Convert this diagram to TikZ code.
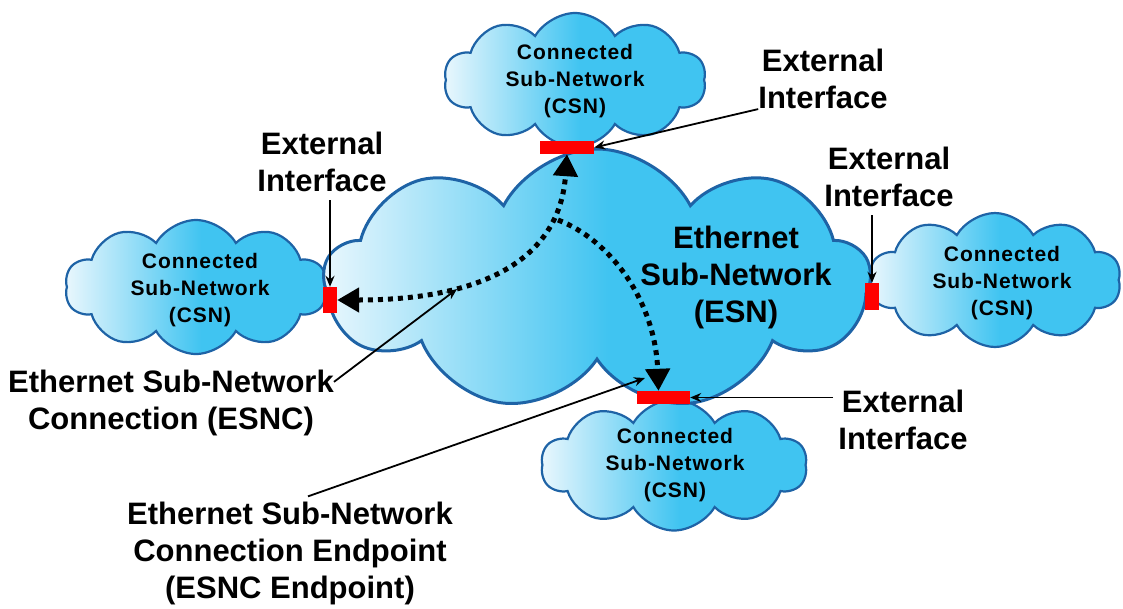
\documentclass[tikz,border=0pt]{standalone}
\usepackage{fontspec}
\setmainfont{Liberation Sans}
\usetikzlibrary{shapes.symbols,arrows.meta,calc}

\definecolor{cloudcyan}{RGB}{64,196,241}
\definecolor{cloudlight}{RGB}{234,247,253}
\definecolor{cloudline}{RGB}{30,99,166}
\definecolor{ifred}{RGB}{255,0,0}
\pgfdeclarehorizontalshading{cloudfade}{100bp}{color(0bp)=(cloudlight); color(25bp)=(cloudlight); color(51bp)=(cloudcyan); color(100bp)=(cloudcyan)}

\tikzset{
  netcloud/.style={cloud, cloud puffs=10, cloud puff arc=120, cloud ignores aspect,
    draw=cloudline, shading=cloudfade, line width=2.2pt, inner sep=0pt},
  csn/.style={netcloud, minimum width=262, minimum height=134},
  csntxt/.style={align=center, inner sep=0pt,
    font=\fontsize{21}{27}\selectfont\bfseries\addfontfeatures{LetterSpace=4.5}},
  lbl/.style={align=center, inner sep=0pt, font=\fontsize{31}{37}\selectfont\bfseries},
  iface/.style={fill=ifred, draw=none, inner sep=0pt},
  esnc/.style={line width=5pt, dash pattern=on 5pt off 5pt,
    -{Triangle[length=22pt,width=24pt]}},
  pointer/.style={line width=1.8pt, -{Stealth[length=11pt,width=9pt]}},
}

\begin{document}
\begin{tikzpicture}[x=1pt,y=-1pt]
\useasboundingbox (0,0) rectangle (1123,608);

% connected sub-networks
\node[csn] (csnTop) at (575,80) {};
\node[csn] (csnLeft) at (196,287) {};
\node[csn, minimum width=252] (csnRight) at (995,280) {};
\node[csn, minimum width=266, minimum height=131] (csnBot) at (674,465) {};

% ethernet sub-network
\node[netcloud, cloud puffs=9, cloud puff arc=125, line width=3pt,
  minimum width=546, minimum height=262] (esn) at (597,280) {};

\node[csntxt] (csnTopTxt) at (575,81) {Connected\\Sub-Network\\(CSN)};
\node[csntxt] (csnLeftTxt) at (200,290) {Connected\\Sub-Network\\(CSN)};
\node[csntxt] (csnRightTxt) at (1002,283) {Connected\\Sub-Network\\(CSN)};
\node[csntxt] (csnBotTxt) at (675,465) {Connected\\Sub-Network\\(CSN)};
\node[lbl] (esnTxt) at (736,277) {Ethernet\\Sub-Network\\(ESN)};

% external interfaces
\node[iface, minimum width=54, minimum height=13] (ifTop) at (567,147.5) {};
\node[iface, minimum width=14, minimum height=26] (ifLeft) at (330,300) {};
\node[iface, minimum width=14, minimum height=27] (ifRight) at (872,296.5) {};
\node[iface, minimum width=53, minimum height=13] (ifBot) at (663.5,397.5) {};

% ESNC
\coordinate (fork) at (558,220);
\draw[esnc, {Triangle[length=22pt,width=24pt]}-{Triangle[length=22pt,width=24pt]}]
  (ifLeft.east) .. controls (490,300) and (560,255) .. (ifTop.south);
\draw[esnc] (fork) .. controls (610,240) and (655,300) .. ([xshift=-5pt]ifBot.north);

% labels
\node[lbl] (extTop) at (823,79) {External\\Interface};
\node[lbl] (extLeft) at (322,162) {External\\Interface};
\node[lbl] (extRight) at (889,177) {External\\Interface};
\node[lbl] (extBot) at (903,420) {External\\Interface};
\node[lbl] (esncTxt) at (171,403) {Ethernet Sub-Network\\Connection (ESNC)};
\node[lbl] (esncEpTxt) at (290,553) {Ethernet Sub-Network\\Connection Endpoint\\(ESNC Endpoint)};

\coordinate (esncPt) at (457,289);
\coordinate (esncEpPt) at (645,378);

\draw[pointer] (extTop.south west) -- (ifTop.east);
\draw[pointer] ([yshift=-8pt]extLeft.south -| ifLeft) -- (ifLeft.north);
\draw[pointer] ([yshift=-8pt]extRight.south -| ifRight) -- (ifRight.north);
\draw[pointer] ([xshift=-5pt]extBot.west |- ifBot.east) -- (ifBot.east);
\draw[pointer] ([yshift=-12pt]esncTxt.north east) -- (esncPt);
\draw[pointer] ([xshift=18pt,yshift=5pt]esncEpTxt.north) -- (esncEpPt);
\end{tikzpicture}
\end{document}
